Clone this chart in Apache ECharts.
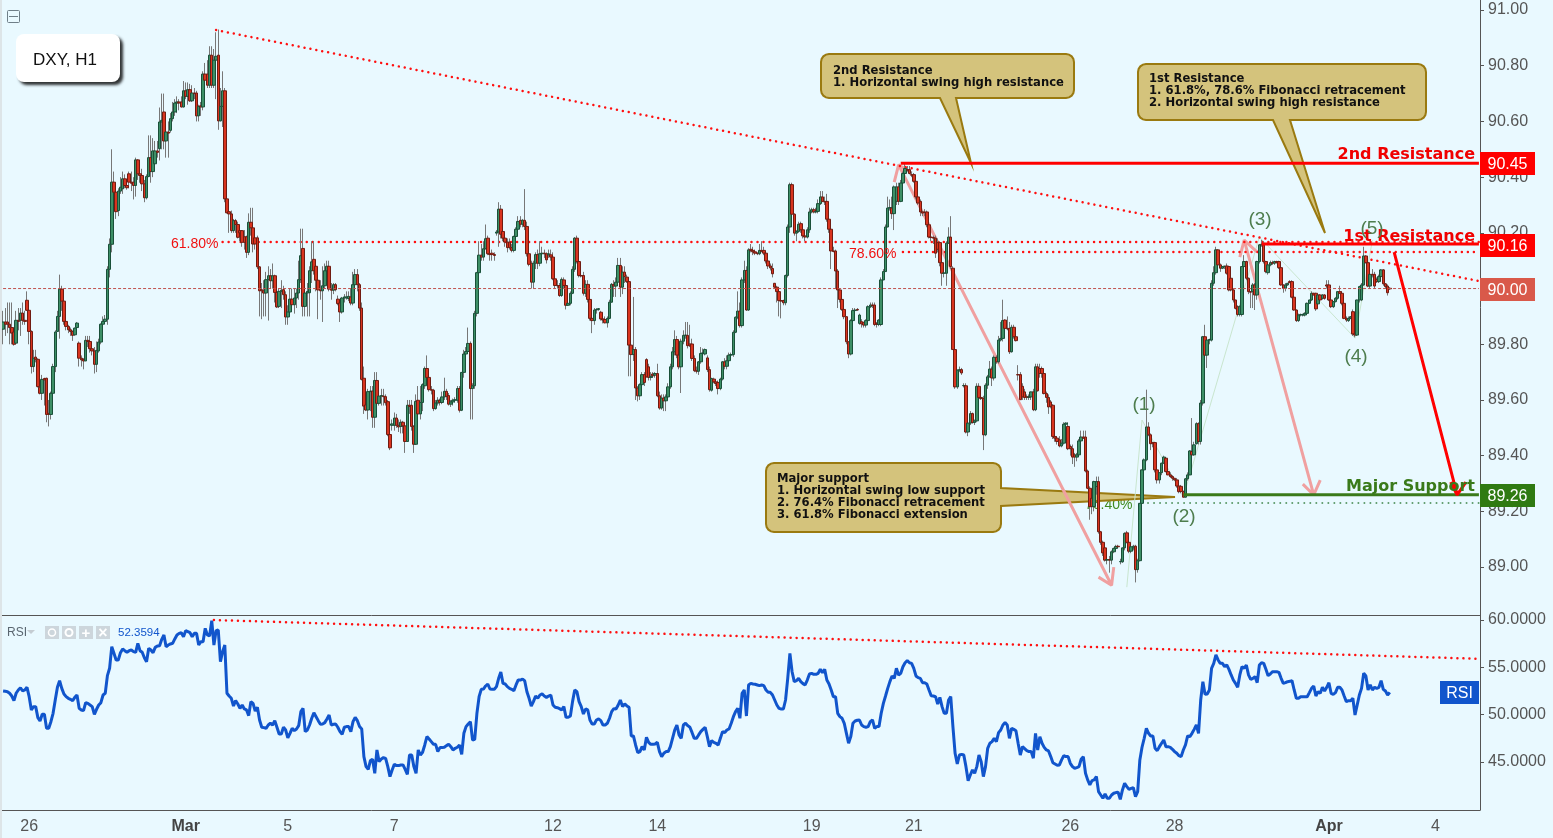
<!DOCTYPE html>
<html>
<head>
<meta charset="utf-8">
<title>DXY, H1</title>
<style>
  html, body { margin: 0; padding: 0; background: #e9f9ff; }
  #chart { width: 1553px; height: 838px; }
</style>
<script src="https://cdn.jsdelivr.net/npm/echarts@6/dist/echarts.min.js"></script>
</head>
<body>
<div id="chart"></div>
<script>
// date labels on the time axis (index of the hourly bar, text)
var tickIndex = [12, 84, 131, 180, 253, 301, 372, 419, 491, 539, 610, 659]
var tickText = ['26', 'Mar', '5', '7', '12', '14', '19', '21', '26', '28', 'Apr', '4']
var priceTicks = [89.0, 89.2, 89.4, 89.6, 89.8, 90.0, 90.2, 90.4, 90.6, 90.8, 91.0]
var rsiTicks = [45, 50, 55, 60]

// hourly candles
var opens = [
89.854,89.880,89.880,89.872,89.860,89.844,89.804,89.886,89.886,89.912,
89.886,89.958,89.922,89.846,89.720,89.754,89.746,89.646,89.624,89.677,
89.678,89.552,89.548,89.624,89.720,89.846,89.900,89.998,89.955,89.882,
89.864,89.852,89.846,89.834,89.860,89.804,89.750,89.746,89.740,89.814,
89.810,89.784,89.776,89.728,89.776,89.808,89.872,89.882,89.890,90.069,
90.159,90.382,90.346,90.280,90.350,90.358,90.394,90.370,90.412,90.382,
90.382,90.370,90.462,90.412,90.406,90.376,90.326,90.402,90.470,90.420,
90.448,90.494,90.502,90.598,90.634,90.530,90.562,90.568,90.610,90.634,
90.666,90.670,90.670,90.652,90.710,90.690,90.714,90.674,90.702,90.702,
90.620,90.656,90.652,90.770,90.770,90.730,90.838,90.730,90.820,90.838,
90.602,90.654,90.710,90.322,90.276,90.268,90.208,90.244,90.230,90.208,
90.208,90.186,90.186,90.130,90.238,90.218,90.182,90.182,90.078,89.996,
89.992,89.984,90.032,90.046,90.028,90.046,89.986,89.936,89.990,89.996,
89.978,89.898,89.916,89.962,89.942,89.966,89.984,90.032,90.144,89.936,
89.984,89.985,90.064,90.105,90.080,90.030,89.994,89.992,90.010,90.064,
90.080,89.998,89.994,90.014,89.962,89.948,89.916,89.966,89.966,89.964,
89.970,89.948,90.014,90.050,90.014,89.930,89.678,89.582,89.564,89.630,
89.632,89.538,89.670,89.588,89.614,89.614,89.612,89.594,89.476,89.509,
89.509,89.535,89.509,89.505,89.520,89.507,89.451,89.581,89.581,89.505,
89.441,89.599,89.550,89.591,89.651,89.713,89.681,89.637,89.635,89.569,
89.589,89.599,89.591,89.611,89.631,89.616,89.585,89.593,89.599,89.599,
89.641,89.563,89.699,89.765,89.774,89.803,89.641,89.651,89.911,90.057,
90.120,90.113,90.143,90.181,90.125,90.127,90.122,90.199,90.203,90.285,
90.205,90.181,90.167,90.167,90.147,90.137,90.187,90.213,90.245,90.231,
90.245,90.223,90.125,90.091,90.023,90.091,90.122,90.091,90.125,90.127,
90.125,90.121,90.121,90.113,90.035,90.011,90.011,89.975,90.031,90.011,
89.940,89.947,89.983,90.069,90.181,90.097,90.047,90.047,89.983,90.015,
89.961,89.893,89.885,89.923,89.925,89.915,89.891,89.889,89.877,89.893,
89.951,90.015,90.009,90.023,90.083,90.005,90.059,90.041,90.025,89.797,
89.763,89.781,89.643,89.615,89.655,89.691,89.745,89.719,89.681,89.693,
89.689,89.695,89.615,89.571,89.607,89.597,89.611,89.647,89.719,89.773,
89.817,89.761,89.719,89.811,89.832,89.832,89.801,89.801,89.749,89.705,
89.703,89.737,89.767,89.765,89.751,89.709,89.635,89.675,89.665,89.663,
89.641,89.675,89.737,89.721,89.741,89.761,89.763,89.843,89.897,89.919,
89.867,90.031,90.065,89.923,90.141,90.137,90.132,90.127,90.125,90.137,
90.137,90.127,90.099,90.081,90.072,90.019,90.005,89.989,89.957,89.957,
89.949,90.047,90.221,90.373,90.267,90.199,90.205,90.233,90.211,90.189,
90.185,90.211,90.275,90.283,90.275,90.277,90.305,90.329,90.313,90.313,
90.249,90.213,90.135,90.135,90.063,89.995,89.961,89.925,89.899,89.809,
89.765,89.885,89.921,89.925,89.875,89.881,89.879,89.869,89.885,89.935,
89.941,89.941,89.875,89.871,89.871,90.031,90.061,90.221,90.289,90.289,
90.269,90.313,90.365,90.313,90.379,90.413,90.427,90.427,90.409,90.409,
90.385,90.329,90.313,90.275,90.275,90.275,90.229,90.185,90.183,90.181,
90.165,90.165,90.093,90.055,90.055,90.163,90.185,90.073,89.781,89.647,
89.707,89.709,89.651,89.651,89.485,89.517,89.551,89.519,89.525,89.649,
89.609,89.605,89.475,89.653,89.683,89.711,89.679,89.753,89.737,89.815,
89.821,89.887,89.857,89.857,89.773,89.861,89.827,89.691,89.691,89.649,
89.629,89.611,89.610,89.611,89.629,89.565,89.719,89.713,89.713,89.695,
89.623,89.609,89.593,89.581,89.469,89.463,89.457,89.435,89.445,89.513,
89.505,89.433,89.425,89.403,89.395,89.403,89.453,89.467,89.467,89.345,
89.283,89.247,89.217,89.289,89.307,89.127,89.089,89.069,89.025,89.027,
89.025,89.055,89.067,89.075,89.019,89.019,89.069,89.123,89.089,89.057,
89.069,89.075,88.991,89.023,89.229,89.349,89.385,89.503,89.475,89.447,
89.447,89.349,89.313,89.339,89.373,89.391,89.343,89.331,89.325,89.319,
89.313,89.291,89.290,89.271,89.251,89.317,89.331,89.415,89.403,89.443,
89.515,89.451,89.589,89.827,89.761,89.815,89.815,90.019,90.057,90.139,
90.085,90.073,90.079,90.081,90.079,90.037,89.995,89.959,89.935,89.907,
89.907,90.079,90.097,90.037,89.989,89.989,90.013,89.977,90.097,90.157,
90.157,90.097,90.057,90.085,90.093,90.091,90.097,90.097,90.075,90.013,
90.001,90.013,90.025,90.025,89.969,89.923,89.885,89.905,89.905,89.905,
89.911,89.947,89.959,89.983,89.983,89.945,89.977,89.965,89.977,90.013,
90.013,89.959,89.935,89.953,89.965,89.989,89.983,89.947,89.893,89.885,
89.893,89.917,89.837,89.833,89.959,89.959,90.013,90.117,90.093,90.009,
90.051,90.051,90.033,90.025,90.043,90.067,90.017,90.009,90.001]
var closes = [
89.880,89.872,89.872,89.860,89.840,89.800,89.886,89.882,89.912,89.886,
89.882,89.922,89.846,89.720,89.750,89.746,89.648,89.624,89.674,89.672,
89.548,89.548,89.624,89.720,89.844,89.900,89.998,89.955,89.882,89.864,
89.852,89.846,89.832,89.858,89.876,89.750,89.744,89.740,89.814,89.810,
89.784,89.776,89.728,89.778,89.808,89.872,89.882,89.890,90.069,90.159,
90.382,90.346,90.276,90.350,90.364,90.394,90.370,90.362,90.382,90.378,
90.370,90.462,90.412,90.406,90.376,90.326,90.402,90.470,90.420,90.494,
90.494,90.489,90.598,90.604,90.530,90.562,90.558,90.610,90.634,90.666,
90.670,90.666,90.652,90.710,90.690,90.714,90.674,90.702,90.700,90.620,
90.654,90.652,90.770,90.748,90.730,90.838,90.730,90.820,90.834,90.602,
90.654,90.710,90.322,90.272,90.268,90.208,90.244,90.230,90.184,90.200,
90.166,90.166,90.130,90.238,90.218,90.160,90.160,90.078,89.992,89.992,
89.984,90.032,90.046,90.028,90.046,89.986,89.934,89.990,89.994,89.978,
89.898,89.916,89.962,89.942,89.966,89.984,90.032,90.118,89.936,89.984,
89.990,90.064,90.096,90.064,90.030,89.995,89.992,90.010,90.064,90.080,
89.998,89.994,90.014,89.996,89.946,89.916,89.966,89.970,89.970,89.972,
89.948,90.014,90.050,90.014,89.930,89.674,89.578,89.564,89.630,89.632,
89.538,89.670,89.588,89.614,89.616,89.612,89.590,89.476,89.428,89.514,
89.535,89.509,89.503,89.520,89.507,89.451,89.581,89.577,89.505,89.441,
89.595,89.550,89.591,89.655,89.713,89.681,89.637,89.635,89.569,89.589,
89.599,89.591,89.611,89.631,89.613,89.585,89.593,89.599,89.601,89.641,
89.563,89.699,89.765,89.774,89.803,89.641,89.651,89.911,90.057,90.120,
90.113,90.143,90.179,90.125,90.122,90.122,90.119,90.203,90.285,90.195,
90.181,90.167,90.147,90.147,90.137,90.187,90.213,90.241,90.231,90.245,
90.223,90.125,90.087,90.023,90.091,90.122,90.091,90.125,90.127,90.125,
90.103,90.125,90.113,90.035,90.011,90.010,89.975,90.033,90.011,89.940,
89.947,89.983,90.069,90.181,90.097,90.047,90.045,89.983,90.015,89.961,
89.893,89.885,89.923,89.925,89.928,89.891,89.887,89.877,89.893,89.951,
90.015,90.009,90.023,90.083,90.005,90.059,90.043,90.025,89.797,89.763,
89.781,89.643,89.615,89.655,89.691,89.663,89.683,89.681,89.685,89.687,
89.695,89.615,89.571,89.607,89.597,89.611,89.647,89.719,89.773,89.817,
89.761,89.719,89.811,89.832,89.833,89.795,89.795,89.749,89.705,89.703,
89.737,89.767,89.769,89.781,89.709,89.637,89.677,89.665,89.659,89.641,
89.675,89.737,89.721,89.741,89.761,89.763,89.843,89.897,89.919,89.867,
90.031,90.065,89.923,90.139,90.137,90.132,90.127,90.125,90.137,90.134,
90.127,90.099,90.081,90.074,90.053,90.005,89.989,89.957,89.955,89.949,
90.047,90.221,90.373,90.267,90.199,90.205,90.231,90.211,90.189,90.185,
90.211,90.275,90.283,90.275,90.277,90.305,90.329,90.313,90.311,90.249,
90.213,90.135,90.133,90.063,89.995,89.961,89.925,89.899,89.809,89.765,
89.885,89.921,89.923,89.923,89.905,89.873,89.869,89.885,89.935,89.941,
89.939,89.871,89.871,89.887,90.031,90.061,90.221,90.289,90.291,90.269,
90.365,90.365,90.313,90.379,90.413,90.431,90.425,90.413,90.407,90.385,
90.329,90.307,90.275,90.271,90.273,90.229,90.185,90.183,90.181,90.127,
90.141,90.093,90.055,90.056,90.163,90.185,90.079,89.781,89.647,89.707,
89.709,89.697,89.652,89.485,89.517,89.551,89.519,89.525,89.649,89.609,
89.605,89.475,89.653,89.683,89.711,89.679,89.753,89.737,89.815,89.821,
89.885,89.857,89.855,89.773,89.861,89.827,89.813,89.690,89.601,89.611,
89.609,89.610,89.611,89.629,89.565,89.719,89.633,89.695,89.695,89.623,
89.609,89.575,89.577,89.469,89.463,89.451,89.435,89.445,89.513,89.517,
89.425,89.425,89.395,89.395,89.403,89.453,89.467,89.463,89.345,89.283,
89.217,89.217,89.307,89.307,89.127,89.089,89.051,89.025,89.027,89.025,
89.055,89.067,89.074,89.073,89.020,89.069,89.121,89.089,89.057,89.073,
89.075,88.991,89.023,89.229,89.349,89.385,89.503,89.475,89.443,89.443,
89.349,89.313,89.339,89.373,89.395,89.343,89.331,89.325,89.319,89.313,
89.291,89.271,89.271,89.251,89.317,89.331,89.417,89.403,89.439,89.515,
89.451,89.589,89.827,89.761,89.815,89.817,90.019,90.057,90.139,90.085,
90.073,90.079,90.081,90.055,89.995,89.995,89.959,89.929,89.907,89.935,
90.079,90.097,90.037,89.989,89.987,90.013,89.977,90.097,90.157,90.159,
90.097,90.061,90.085,90.093,90.091,90.097,90.093,90.075,90.013,90.001,
90.013,90.019,90.021,89.969,89.923,89.885,89.905,89.907,89.906,89.911,
89.947,89.959,89.983,89.977,89.927,89.977,89.959,89.977,89.965,90.009,
89.959,89.935,89.953,89.965,89.989,89.983,89.947,89.893,89.887,89.893,
89.899,89.837,89.833,89.959,90.007,90.013,90.117,90.093,90.009,90.051,
90.049,90.009,90.025,90.043,90.067,90.017,90.007,89.985,89.999]
var highs = [
89.92,89.93,89.95,89.95,89.95,89.86,89.92,89.93,89.93,89.95,
89.92,89.99,89.93,89.85,89.78,89.78,89.75,89.65,89.69,89.68,
89.68,89.60,89.63,89.73,89.85,89.92,90.05,90.01,89.96,89.89,
89.87,89.86,89.85,89.86,89.88,89.81,89.76,89.75,89.83,89.83,
89.83,89.80,89.79,89.81,89.82,89.875,89.90,89.905,90.08,90.18,
90.50,90.42,90.38,90.36,90.40,90.42,90.41,90.38,90.42,90.42,
90.40,90.47,90.465,90.42,90.43,90.39,90.41,90.55,90.55,90.54,
90.53,90.53,90.65,90.70,90.70,90.57,90.60,90.63,90.67,90.68,
90.69,90.68,90.69,90.745,90.74,90.74,90.735,90.73,90.72,90.71,
90.66,90.67,90.78,90.81,90.82,90.87,90.87,90.86,90.92,90.93,
90.72,90.78,90.72,90.33,90.30,90.28,90.25,90.25,90.24,90.22,
90.21,90.21,90.19,90.27,90.29,90.29,90.19,90.19,90.08,90.02,
90.03,90.06,90.08,90.07,90.09,90.05,90.00,90.00,90.03,90.01,
89.99,89.94,90.00,90.00,90.00,90.00,90.10,90.215,90.215,90.02,
90.02,90.08,90.17,90.17,90.09,90.05,90.03,90.08,90.09,90.10,
90.10,90.02,90.02,90.02,89.975,89.96,89.97,89.98,89.99,89.99,
90.00,90.06,90.07,90.07,90.02,89.95,89.72,89.60,89.64,89.65,
89.65,89.70,89.70,89.62,89.64,89.64,89.62,89.60,89.48,89.53,
89.555,89.55,89.53,89.53,89.525,89.51,89.60,89.60,89.60,89.51,
89.62,89.65,89.65,89.66,89.72,89.76,89.69,89.65,89.64,89.60,
89.61,89.605,89.63,89.68,89.64,89.625,89.60,89.605,89.61,89.65,
89.65,89.70,89.78,89.79,89.86,89.81,89.66,89.92,90.06,90.17,
90.16,90.17,90.23,90.19,90.13,90.14,90.13,90.21,90.31,90.30,
90.21,90.19,90.18,90.18,90.16,90.19,90.22,90.26,90.26,90.25,
90.357,90.24,90.13,90.10,90.10,90.13,90.14,90.17,90.15,90.14,
90.13,90.14,90.14,90.13,90.05,90.03,90.02,90.04,90.04,90.02,
89.96,89.99,90.08,90.185,90.19,90.10,90.07,90.06,90.03,90.03,
89.97,89.90,89.93,89.93,89.93,89.92,89.90,89.90,89.90,89.96,
90.02,90.03,90.04,90.11,90.11,90.08,90.08,90.05,90.03,89.97,
89.97,89.79,89.65,89.66,89.70,89.70,89.75,89.73,89.70,89.70,
89.70,89.73,89.63,89.62,89.62,89.62,89.66,89.73,89.79,89.85,
89.83,89.80,89.82,89.85,89.88,89.88,89.87,89.82,89.76,89.72,
89.74,89.79,89.785,89.785,89.76,89.72,89.68,89.68,89.67,89.67,
89.68,89.74,89.75,89.76,89.77,89.77,89.85,89.90,89.99,89.95,
90.04,90.10,90.08,90.145,90.16,90.15,90.14,90.13,90.16,90.17,
90.15,90.13,90.11,90.09,90.09,90.02,90.01,89.99,89.96,89.96,
90.05,90.23,90.38,90.38,90.27,90.21,90.24,90.24,90.22,90.20,
90.22,90.29,90.29,90.29,90.29,90.32,90.35,90.35,90.33,90.34,
90.26,90.23,90.15,90.14,90.07,90.00,89.97,89.93,89.90,89.81,
89.89,89.93,89.93,89.93,89.91,89.89,89.88,89.89,89.94,89.95,
89.95,89.95,89.88,89.89,90.04,90.07,90.23,90.33,90.32,90.33,
90.37,90.38,90.38,90.39,90.42,90.45,90.44,90.44,90.42,90.415,
90.39,90.34,90.32,90.28,90.285,90.28,90.24,90.19,90.19,90.19,
90.18,90.17,90.10,90.06,90.17,90.22,90.26,90.08,89.79,89.71,
89.72,89.715,89.66,89.66,89.52,89.56,89.555,89.53,89.66,89.66,
89.62,89.615,89.66,89.69,89.74,89.72,89.76,89.76,89.83,89.88,
89.96,89.89,89.90,89.88,89.87,89.87,89.83,89.725,89.70,89.66,
89.64,89.62,89.62,89.63,89.64,89.73,89.73,89.73,89.72,89.71,
89.63,89.62,89.60,89.585,89.48,89.47,89.47,89.46,89.52,89.52,
89.52,89.44,89.44,89.41,89.41,89.46,89.49,89.49,89.49,89.35,
89.29,89.26,89.31,89.325,89.325,89.13,89.095,89.08,89.03,89.04,
89.06,89.07,89.08,89.08,89.03,89.07,89.125,89.13,89.10,89.08,
89.08,89.08,89.03,89.23,89.35,89.39,89.637,89.52,89.48,89.45,
89.45,89.35,89.34,89.375,89.40,89.395,89.35,89.34,89.33,89.32,
89.32,89.30,89.295,89.275,89.32,89.34,89.42,89.535,89.45,89.52,
89.52,89.60,89.83,89.87,89.82,89.82,90.03,90.08,90.15,90.14,
90.09,90.08,90.08,90.09,90.08,90.04,90.00,89.96,89.94,89.94,
90.08,90.12,90.10,90.04,89.99,90.02,90.02,90.10,90.16,90.175,
90.17,90.10,90.09,90.10,90.10,90.10,90.10,90.10,90.08,90.015,
90.02,90.02,90.03,90.03,89.97,89.925,89.91,89.91,89.91,89.915,
89.95,89.96,89.99,89.985,89.985,89.98,89.98,89.98,89.98,90.03,
90.03,89.96,89.955,89.97,89.99,90.01,89.99,89.95,89.90,89.90,
89.90,89.925,89.84,89.96,90.01,90.02,90.15,90.12,90.10,90.06,
90.07,90.06,90.04,90.05,90.07,90.07,90.02,90.015,90.005]
var lows = [
89.80,89.83,89.84,89.80,89.80,89.795,89.80,89.85,89.83,89.87,
89.87,89.92,89.80,89.695,89.70,89.735,89.645,89.62,89.60,89.58,
89.52,89.505,89.53,89.70,89.70,89.845,89.82,89.92,89.87,89.85,
89.84,89.83,89.812,89.83,89.86,89.72,89.72,89.71,89.74,89.79,
89.77,89.76,89.695,89.70,89.77,89.80,89.87,89.875,89.87,90.04,
90.13,90.30,90.25,90.26,90.34,90.34,90.36,90.355,90.36,90.35,
90.32,90.33,90.39,90.38,90.35,90.31,90.32,90.40,90.38,90.40,
90.44,90.47,90.46,90.50,90.50,90.47,90.47,90.56,90.60,90.62,
90.63,90.64,90.65,90.65,90.68,90.66,90.67,90.67,90.68,90.60,
90.60,90.62,90.64,90.74,90.72,90.72,90.72,90.72,90.68,90.57,
90.60,90.58,90.31,90.27,90.20,90.20,90.20,90.20,90.18,90.17,
90.15,90.14,90.11,90.12,90.19,90.13,90.14,90.07,89.90,89.89,
89.90,89.90,89.885,90.00,90.00,89.95,89.93,89.93,89.93,89.96,
89.87,89.87,89.90,89.93,89.91,89.93,89.96,90.02,89.90,89.90,
89.90,89.90,90.02,90.05,89.99,89.89,89.96,89.88,90.00,90.04,
89.99,89.96,89.98,89.99,89.94,89.88,89.91,89.95,89.96,89.955,
89.94,89.94,90.00,89.99,89.92,89.67,89.55,89.56,89.53,89.56,
89.50,89.50,89.57,89.58,89.58,89.58,89.58,89.47,89.42,89.49,
89.49,89.50,89.485,89.48,89.48,89.41,89.45,89.55,89.49,89.41,
89.44,89.53,89.53,89.56,89.64,89.67,89.63,89.62,89.56,89.565,
89.58,89.58,89.585,89.60,89.60,89.58,89.575,89.58,89.59,89.59,
89.555,89.56,89.68,89.75,89.77,89.53,89.53,89.64,89.90,90.05,
90.10,90.10,90.14,90.12,90.10,90.10,90.10,90.19,90.15,90.18,
90.17,90.15,90.13,90.14,90.13,90.13,90.17,90.20,90.22,90.22,
90.21,90.115,90.08,90.00,90.00,90.07,90.07,90.08,90.11,90.11,
90.09,90.11,90.10,90.03,90.00,90.00,89.97,89.97,90.00,89.925,
89.94,89.94,89.98,90.06,90.09,90.04,90.04,89.975,89.97,89.95,
89.885,89.84,89.87,89.91,89.92,89.885,89.875,89.875,89.86,89.89,
89.95,89.97,89.97,90.02,89.97,89.98,90.02,90.02,89.685,89.685,
89.74,89.60,89.595,89.60,89.65,89.65,89.68,89.67,89.67,89.68,
89.68,89.61,89.565,89.565,89.56,89.56,89.60,89.64,89.71,89.76,
89.75,89.71,89.625,89.80,89.82,89.785,89.79,89.74,89.70,89.695,
89.69,89.73,89.76,89.76,89.70,89.63,89.63,89.66,89.65,89.62,
89.635,89.67,89.71,89.71,89.74,89.75,89.755,89.84,89.89,89.86,
89.86,90.02,89.92,89.92,90.13,90.12,90.12,90.12,90.12,90.13,
90.12,90.09,90.07,90.065,90.04,90.00,89.95,89.90,89.893,89.94,
89.94,90.04,90.20,90.26,90.19,90.17,90.20,90.20,90.18,90.17,
90.18,90.20,90.27,90.27,90.27,90.27,90.30,90.31,90.30,90.24,
90.20,90.07,90.13,90.00,89.93,89.95,89.92,89.89,89.80,89.75,
89.76,89.88,89.92,89.92,89.87,89.86,89.86,89.86,89.88,89.93,
89.93,89.865,89.86,89.865,89.865,90.03,90.06,90.22,90.28,90.25,
90.21,90.30,90.30,90.31,90.37,90.41,90.42,90.41,90.40,90.38,
90.32,90.30,90.26,90.26,90.26,90.22,90.18,90.17,90.16,90.11,
90.13,90.08,90.01,90.04,90.01,90.16,90.07,89.78,89.64,89.64,
89.70,89.69,89.645,89.48,89.47,89.51,89.515,89.51,89.52,89.60,
89.60,89.42,89.47,89.64,89.68,89.65,89.67,89.73,89.73,89.81,
89.81,89.85,89.85,89.765,89.77,89.82,89.81,89.67,89.60,89.60,
89.60,89.60,89.60,89.60,89.56,89.56,89.63,89.68,89.68,89.62,
89.59,89.55,89.57,89.46,89.45,89.44,89.43,89.43,89.44,89.50,
89.42,89.40,89.37,89.36,89.38,89.40,89.45,89.46,89.34,89.28,
89.17,89.19,89.20,89.26,89.12,89.08,89.04,89.02,89.01,88.98,
89.01,89.05,89.06,89.07,89.01,89.015,89.06,89.085,89.05,89.05,
89.06,88.945,88.98,89.02,89.22,89.34,89.38,89.47,89.42,89.43,
89.34,89.30,89.30,89.33,89.37,89.34,89.33,89.32,89.31,89.31,
89.285,89.265,89.265,89.25,89.25,89.31,89.33,89.40,89.40,89.44,
89.44,89.44,89.58,89.75,89.715,89.80,89.81,90.01,90.05,90.08,
90.06,90.07,90.07,90.05,89.99,89.99,89.95,89.925,89.90,89.90,
89.90,90.07,90.03,89.98,89.93,89.93,89.923,89.96,90.09,90.15,
90.09,90.055,90.05,90.08,90.085,90.085,90.09,90.07,90.01,89.985,
89.99,90.01,90.02,89.965,89.92,89.88,89.88,89.90,89.90,89.90,
89.905,89.945,89.955,89.975,89.92,89.94,89.955,89.96,89.96,90.00,
89.955,89.93,89.93,89.95,89.96,89.98,89.94,89.89,89.88,89.88,
89.89,89.83,89.825,89.83,89.95,89.955,90.01,90.09,90.005,90.00,
90.04,90.00,90.02,90.02,90.04,90.01,90.00,89.975,89.995]

// RSI, one value per candle
var rsiValues = [
52.50,52.47,52.43,52.26,51.97,51.48,52.26,52.61,52.85,52.50,
52.61,52.89,51.90,50.50,50.85,50.85,49.69,49.33,50.04,50.04,
48.56,48.56,49.26,50.14,51.55,52.89,53.59,52.78,52.19,51.91,
51.73,51.62,51.48,51.83,52.08,50.67,50.50,50.43,51.27,51.20,
51.02,50.85,50.04,50.57,51.02,51.27,52.08,52.26,54.12,54.90,
57.18,56.48,55.78,55.78,56.55,56.94,56.76,56.59,56.76,56.83,
56.66,56.59,57.54,56.76,56.59,56.02,55.60,57.01,56.83,56.55,
57.11,57.25,57.29,57.96,58.42,57.18,57.36,57.47,57.54,58.00,
58.42,58.59,58.66,58.24,58.87,58.77,58.66,58.24,58.59,58.59,
57.36,57.71,57.71,59.12,58.42,58.31,59.93,57.36,58.87,58.94,
55.60,56.66,57.36,52.26,51.97,51.73,50.92,51.48,51.13,50.67,
51.02,50.60,50.50,49.90,51.38,51.20,50.39,50.78,49.44,48.67,
48.63,48.56,48.91,49.09,48.91,49.37,48.67,47.96,47.96,48.67,
48.38,47.54,48.03,48.56,48.31,48.49,48.84,50.32,50.67,48.21,
48.38,48.91,49.62,50.21,49.79,49.37,48.98,49.02,49.16,49.55,
49.97,48.91,48.98,49.02,48.67,48.21,47.93,48.67,48.74,48.74,
48.21,49.26,49.72,49.37,48.74,48.49,45.57,44.51,44.23,45.15,
45.29,43.81,46.27,45.04,45.32,45.46,45.39,44.51,43.46,44.16,
44.76,44.62,44.62,44.69,44.69,44.23,43.70,45.74,45.74,44.51,
43.81,46.27,45.74,46.03,46.80,47.68,47.43,47.15,46.87,46.87,
46.10,46.52,46.52,46.56,46.73,46.87,46.62,46.27,46.45,46.56,
46.80,45.81,48.03,48.74,49.02,49.26,47.33,47.40,50.14,51.90,
52.68,52.71,53.03,53.24,52.71,52.68,52.68,52.96,53.84,54.51,
53.31,53.24,52.96,52.78,52.68,52.54,53.14,53.67,53.66,53.77,
53.56,52.43,51.73,50.92,51.38,51.97,51.73,52.08,52.19,51.97,
51.83,51.97,52.08,51.02,50.78,50.74,50.64,50.50,50.85,49.72,
49.72,49.86,51.38,52.61,52.43,51.38,50.85,50.07,50.60,50.50,
49.44,49.02,49.02,49.44,49.55,49.37,48.91,48.91,49.09,49.62,
50.32,50.64,50.60,51.02,51.55,50.85,51.13,50.92,50.78,47.75,
47.75,46.80,45.99,46.10,46.62,46.27,47.61,47.08,46.87,46.87,
46.91,47.08,46.10,45.57,45.92,46.10,46.10,46.62,47.50,48.38,
48.91,47.86,47.50,48.91,49.09,48.84,48.67,48.10,47.50,47.50,
47.86,48.21,48.45,48.67,47.68,46.62,47.26,47.08,46.98,46.80,
47.50,48.21,48.10,48.38,48.49,49.09,49.79,50.32,50.67,49.62,
52.26,52.61,49.86,53.14,53.31,53.24,53.21,53.14,53.07,53.14,
53.07,52.61,52.36,52.36,52.08,51.55,51.02,50.67,50.60,50.60,
51.55,53.84,56.48,54.54,53.49,53.59,53.84,53.49,53.28,53.14,
53.66,54.30,54.37,54.26,54.26,54.37,54.79,54.44,54.79,53.66,
53.24,52.61,51.90,51.90,50.14,49.79,49.62,49.09,48.03,46.98,
47.68,49.09,49.33,49.41,49.44,48.91,48.74,48.67,48.74,49.26,
49.44,48.56,48.74,48.74,50.15,51.20,51.97,52.78,53.49,54.09,
53.84,54.90,54.20,54.37,55.07,55.49,55.71,55.49,55.42,54.90,
54.09,53.91,53.84,53.38,53.38,53.24,52.61,52.00,51.97,51.90,
51.13,51.83,50.85,50.14,50.14,51.55,51.90,48.74,45.92,44.79,
45.74,45.81,45.74,44.51,43.03,43.63,44.16,43.81,44.51,45.74,
45.04,43.46,44.51,46.45,46.98,47.15,47.50,47.15,48.10,48.38,
48.91,49.16,48.91,47.50,48.56,48.45,48.31,46.98,45.74,46.62,
46.41,46.20,46.10,46.10,45.40,48.03,46.27,47.68,46.98,46.55,
46.27,46.17,45.57,44.93,44.79,44.65,44.69,45.22,45.67,45.57,
45.57,44.86,44.51,44.34,44.41,44.51,45.29,45.57,43.81,43.11,
42.58,43.03,43.11,43.46,41.87,41.52,41.17,41.63,41.17,41.17,
41.52,41.70,41.77,41.80,41.06,42.05,42.75,42.40,42.12,42.22,
42.29,41.34,41.87,45.22,46.56,47.50,48.56,48.03,47.75,47.75,
46.45,46.20,46.62,46.98,47.33,46.62,46.62,46.55,46.34,46.10,
45.92,45.67,45.57,46.27,46.80,47.75,47.68,48.03,48.45,48.91,
48.03,51.55,53.49,52.15,52.19,52.61,54.90,55.42,56.31,55.78,
55.42,55.42,55.07,55.25,54.79,54.20,53.66,53.31,52.89,54.20,
55.07,54.90,55.25,54.20,53.73,53.84,54.02,53.38,55.25,55.49,
55.42,54.79,54.12,54.30,54.54,54.54,54.54,54.47,53.84,53.31,
53.38,53.49,53.52,53.59,52.61,51.73,51.73,51.90,51.90,51.90,
51.90,52.33,52.78,53.03,51.97,52.43,52.26,52.89,52.50,52.89,
53.38,52.26,52.15,52.33,52.89,52.89,52.61,51.97,51.38,51.48,
51.48,51.73,49.97,51.02,52.08,52.78,54.37,54.09,52.61,53.14,
52.61,52.89,52.78,52.89,53.59,52.68,52.50,52.08,52.36]

// trend lines and levels: [bar index, price]
var topTrend = [[98, 90.928], [679, 90.027]]
var fib618 = [[101, 90.167], [679, 90.167]]
var fib786 = [[414, 90.131], [679, 90.131]]
var fib764 = [[524, 89.23], [679, 89.23]]
var lastPrice = [[0, 90.0], [679, 90.0]]
var secondResistance = [[413, 90.45], [679, 90.45]]
var firstResistance = [[579, 90.16], [679, 90.16]]
var majorSupport = [[543, 89.26], [679, 89.26]]
var rsiTrend = [[97, 60.0], [679, 55.9]]
var waveLine = [[517, 88.928], [524, 89.528], [543, 89.251], [578, 90.185], [622, 89.822], [630, 90.174]]
var pinkArrowA = [[410, 90.382], [412, 90.444], [418, 90.415], [412, 90.444], [510, 88.935], [504, 88.964], [510, 88.935], [511, 89.0]]
var pinkArrowB = [[569, 90.113], [571, 90.174], [577, 90.131], [571, 90.174], [603, 89.259], [598, 89.298], [603, 89.259], [606, 89.312]]
var redArrow = [[640, 90.131], [669, 89.259], [666, 89.305], [669, 89.259], [673, 89.305]]

var barCount = 680
var categories = []
for (var i = 0; i < barCount; i++) {
  var at = tickIndex.indexOf(i)
  categories.push(at >= 0 ? tickText[at] : '')
}
var isTick = function (index) { return tickIndex.indexOf(index) >= 0 }

var wicks = opens.map(function (o, k) { return [o, closes[k], lows[k], highs[k]] })
var bodies = opens.map(function (o, k) {
  return [o, closes[k], Math.min(o, closes[k]), Math.max(o, closes[k])]
})

// round caps on a near zero dash give real dots
var dots = [0.01, 6]

function level(data, color, width, dash, z, grid) {
  return {
    type: 'line',
    xAxisIndex: grid || 0,
    yAxisIndex: grid || 0,
    data: data,
    symbol: 'none',
    silent: true,
    z: z,
    lineStyle: { color: color, width: width, type: dash || 'solid', cap: dash === dots ? 'round' : 'butt' }
  }
}

var sans = '"Liberation Sans", Arial, sans-serif'
var verdana = '"DejaVu Sans", Verdana, sans-serif'

function label(x, y, text, fill, font, align, z) {
  return {
    type: 'text', x: x, y: y + 1, z: z || 5, silent: true,
    style: { text: text, fill: fill, font: font, align: align || 'left', verticalAlign: 'middle' }
  }
}
function tag(y, text, color) {
  return [
    { type: 'rect', z: 20, silent: true, shape: { x: 1480, y: y - 11.5, width: 55, height: 23 }, style: { fill: color } },
    label(1507.5, y, text, '#fff', '16px ' + sans, 'center', 21)
  ]
}
// quarter circle of points for a rounded box corner
function corner(cx, cy, r, start) {
  var pts = []
  for (var k = 0; k <= 4; k++) {
    var a = (start + k * 22.5) * Math.PI / 180
    pts.push([cx + r * Math.cos(a), cy + r * Math.sin(a)])
  }
  return pts
}
// box with a tail, tail points go on the right or the bottom side
function callout(box, tail, side, textX, textY, lines) {
  var r = 8, x0 = box[0], y0 = box[1], x1 = box[2], y1 = box[3]
  var pts = corner(x0 + r, y0 + r, r, 180).concat(corner(x1 - r, y0 + r, r, 270))
  if (side === 'right') pts = pts.concat(tail)
  pts = pts.concat(corner(x1 - r, y1 - r, r, 0))
  if (side === 'bottom') pts = pts.concat(tail)
  pts = pts.concat(corner(x0 + r, y1 - r, r, 90))
  var els = [{
    type: 'polygon', z: 1, silent: true, shape: { points: pts },
    style: { fill: '#d4c37c', stroke: '#9a7a10', lineWidth: 2 }
  }]
  lines.forEach(function (t, k) {
    els.push(label(textX, textY + k * 12, t, '#111', 'bold 11.6px ' + verdana, 'left', 1))
  })
  return els
}

var elements = [
  // left edge and collapse button
  { type: 'rect', z: 6, silent: true, shape: { x: 0, y: 0, width: 2, height: 838 }, style: { fill: '#dde5e8' } },
  { type: 'rect', z: 6, silent: true, shape: { x: 7.5, y: 10.5, width: 12, height: 12, r: 1 }, style: { fill: 'none', stroke: '#6f7f88', lineWidth: 1 } },
  { type: 'line', z: 6, silent: true, shape: { x1: 9, y1: 16.5, x2: 18, y2: 16.5 }, style: { stroke: '#6f7f88', lineWidth: 1 } },
  // instrument box
  {
    type: 'rect', z: 6, silent: true, shape: { x: 16, y: 34, width: 104, height: 48, r: 8 },
    style: { fill: '#fff', shadowBlur: 3, shadowOffsetX: 3, shadowOffsetY: 3, shadowColor: 'rgba(0,0,0,0.8)' }
  },
  label(65, 59, 'DXY, H1', '#111', '17px ' + sans, 'center', 7),
  // fibonacci labels
  label(171, 243, '61.80%', '#f01010', '14px ' + sans),
  label(849, 253, '78.60%', '#f01010', '14px ' + sans),
  label(1085, 504, '76.40%', '#3f8a20', '14px ' + sans, 'left', 1),
  // level names
  label(1475, 154, '2nd Resistance', '#f00000', 'bold 16px ' + verdana, 'right'),
  label(1475, 236, '1st Resistance', '#f00000', 'bold 16px ' + verdana, 'right'),
  label(1475, 486, 'Major Support', '#3a7a1a', 'bold 16px ' + verdana, 'right'),
  // wave counts
  label(1144, 404, '(1)', '#4e7d4e', '19px ' + sans, 'center'),
  label(1184, 516, '(2)', '#4e7d4e', '19px ' + sans, 'center'),
  label(1260, 219, '(3)', '#4e7d4e', '19px ' + sans, 'center'),
  label(1356, 356, '(4)', '#4e7d4e', '19px ' + sans, 'center'),
  label(1372, 228, '(5)', '#4e7d4e', '19px ' + sans, 'center'),
  // RSI legend
  label(7, 632, 'RSI', '#5a6670', '12px ' + sans),
  { type: 'polygon', z: 6, silent: true, shape: { points: [[27, 630], [35, 630], [31, 634]] }, style: { fill: '#c4ccd2' } },
  { type: 'rect', z: 6, silent: true, shape: { x: 45, y: 626, width: 14, height: 13 }, style: { fill: '#cdd6dc' } },
  { type: 'rect', z: 6, silent: true, shape: { x: 62, y: 626, width: 14, height: 13 }, style: { fill: '#cdd6dc' } },
  { type: 'rect', z: 6, silent: true, shape: { x: 79, y: 626, width: 14, height: 13 }, style: { fill: '#cdd6dc' } },
  { type: 'rect', z: 6, silent: true, shape: { x: 96, y: 626, width: 14, height: 13 }, style: { fill: '#cdd6dc' } },
  { type: 'circle', z: 7, silent: true, shape: { cx: 52, cy: 632.5, r: 3.5 }, style: { fill: 'none', stroke: '#fff', lineWidth: 1.5 } },
  { type: 'circle', z: 7, silent: true, shape: { cx: 69, cy: 632.5, r: 3.5 }, style: { fill: 'none', stroke: '#fff', lineWidth: 2 } },
  label(86, 632.5, '+', '#fff', 'bold 15px ' + sans, 'center', 7),
  label(103, 632.5, '×', '#fff', 'bold 16px ' + sans, 'center', 7),
  label(118, 632, '52.3594', '#1155cc', '11.5px ' + sans),
  // RSI tag
  { type: 'rect', z: 20, silent: true, shape: { x: 1440, y: 681, width: 39, height: 23 }, style: { fill: '#1155cc' } },
  label(1459.5, 692.5, 'RSI', '#fff', '16px ' + sans, 'center', 21)
].concat(
  tag(163.5, '90.45', '#ff0000'),
  tag(245.5, '90.16', '#ff0000'),
  tag(289.5, '90.00', '#d9594a'),
  tag(495.5, '89.26', '#2f7a12'),
  callout([821, 54, 1074, 98], [[956, 98], [971, 163], [940, 98]], 'bottom',
    833, 70, ['2nd Resistance', '1. Horizontal swing high resistance']),
  callout([1138, 64, 1426, 120], [[1290, 120], [1325, 233], [1273, 120]], 'bottom',
    1149, 78, ['1st Resistance', '1. 61.8%, 78.6% Fibonacci retracement', '2. Horizontal swing high resistance']),
  callout([766, 463, 1001, 532], [[1001, 488], [1175, 497], [1001, 506]], 'right',
    777, 478, ['Major support', '1. Horizontal swing low support', '2. 76.4% Fibonacci retracement', '3. 61.8% Fibonacci extension'])
)

var chart = echarts.init(document.getElementById('chart'))
var option = {
  animation: false,
  backgroundColor: '#e9f9ff',
  grid: [
    { left: 2, right: 73, top: 0, height: 615 },
    { left: 2, right: 73, top: 615, height: 195 }
  ],
  xAxis: [
    {
      type: 'category', gridIndex: 0, data: categories,
      axisLine: { lineStyle: { color: '#555', width: 1 }, onZero: false },
      axisTick: { show: false }, axisLabel: { show: false }, splitLine: { show: false }
    },
    {
      type: 'category', gridIndex: 1, data: categories,
      axisLine: { lineStyle: { color: '#555', width: 1 }, onZero: false },
      axisTick: { length: 4, alignWithLabel: true, interval: isTick, lineStyle: { color: '#555' } },
      axisLabel: {
        interval: isTick, margin: 9, color: '#555', fontSize: 16, fontFamily: sans,
        formatter: function (v) { return v === 'Mar' || v === 'Apr' ? '{b|' + v + '}' : v },
        rich: { b: { fontWeight: 'bold', color: '#444', fontSize: 16, fontFamily: sans } }
      },
      splitLine: { show: false }
    }
  ],
  yAxis: [
    {
      type: 'value', gridIndex: 0, position: 'right', min: 88.828, max: 91.036, scale: true,
      axisLine: { show: true, lineStyle: { color: '#555', width: 1 } },
      axisTick: { show: true, length: 4, customValues: priceTicks, lineStyle: { color: '#555' } },
      axisLabel: {
        customValues: priceTicks, margin: 8, padding: [4, 0, 0, 0], color: '#555', fontSize: 16, fontFamily: sans,
        formatter: function (v) { return v.toFixed(2) }
      },
      splitLine: { show: false }
    },
    {
      type: 'value', gridIndex: 1, position: 'right', min: 39.93, max: 60.53, scale: true,
      axisLine: { show: true, lineStyle: { color: '#555', width: 1 } },
      axisTick: { show: true, length: 4, customValues: rsiTicks, lineStyle: { color: '#555' } },
      axisLabel: {
        customValues: rsiTicks, margin: 8, padding: [4, 0, 0, 0], color: '#555', fontSize: 16, fontFamily: sans,
        formatter: function (v) { return v.toFixed(4) }
      },
      splitLine: { show: false }
    }
  ],
  graphic: { elements: elements },
  series: [
    level(waveLine, '#c9e6cf', 1, null, 1),
    level(pinkArrowA, '#f0a0a0', 3, null, 1),
    level(pinkArrowB, '#f0a0a0', 3, null, 1),
    level(topTrend, '#ff1010', 2.5, dots, 1),
    level(fib618, '#ff1010', 2.5, dots, 1),
    level(fib786, '#ff1010', 2.5, dots, 1),
    level(fib764, '#5c9a6a', 2, dots, 1),
    {
      name: 'wicks', type: 'candlestick', xAxisIndex: 0, yAxisIndex: 0, data: wicks, large: false, silent: true,
      barWidth: 1, z: 2,
      itemStyle: { color: '#777', color0: '#777', borderColor: '#777', borderColor0: '#777', borderWidth: 1 }
    },
    {
      name: 'DXY', type: 'candlestick', xAxisIndex: 0, yAxisIndex: 0, data: bodies, large: false, silent: true,
      barWidth: 3, z: 3,
      itemStyle: { color: '#3d8f66', color0: '#d9341f', borderColor: '#1a5039', borderColor0: '#701c12', borderWidth: 1 }
    },
    level(lastPrice, '#c0504d', 1, [3, 2], 4),
    level(secondResistance, '#ff0000', 3, null, 4),
    level(firstResistance, '#ff0000', 3, null, 4),
    level(majorSupport, '#3a7a1a', 3, null, 4),
    level(redArrow, '#ff0000', 3, null, 4),
    {
      name: 'RSI', type: 'line', xAxisIndex: 1, yAxisIndex: 1, data: rsiValues, symbol: 'none', silent: true, z: 3,
      lineStyle: { color: '#1155cc', width: 3 }
    },
    level(rsiTrend, '#ff1010', 2.5, dots, 4, 1)
  ]
}
chart.setOption(option)
</script>
</body>
</html>
